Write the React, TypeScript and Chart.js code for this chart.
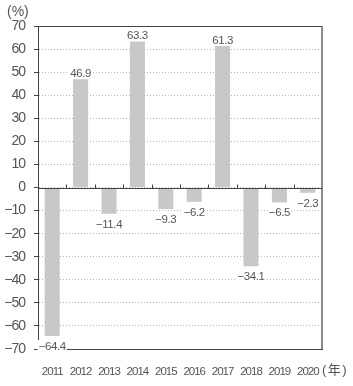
import React, { useEffect, useRef } from "react";
import { Chart, registerables } from "chart.js";

Chart.register(...registerables);

const years = ["2011", "2012", "2013", "2014", "2015", "2016", "2017", "2018", "2019", "2020"];
const growth = [-64.4, 46.9, -11.4, 63.3, -9.3, -6.2, 61.3, -34.1, -6.5, -2.3];
const yMin = -70;
const yMax = 70;
const yStep = 10;
const yUnit = "(%)";
const xUnit = "(年)";

const FONT = "'Liberation Sans', Arial, sans-serif";

const fmt = (v: number) => (v < 0 ? "\u2212" + Math.abs(v).toFixed(1) : v.toFixed(1));

const overlay = {
  id: "overlay",
  beforeDraw(chart: any) {
    (chart.ctx as any).letterSpacing = "-1px";
  },
  afterDatasetsDraw(chart: any) {
    const { ctx, chartArea, scales } = chart;
    const x = scales.x;
    const y = scales.y;
    ctx.save();
    // frame top & right
    ctx.strokeStyle = "#444";
    ctx.lineWidth = 1;
    ctx.beginPath();
    ctx.moveTo(chartArea.left, Math.round(chartArea.top) + 0.5);
    ctx.lineTo(chartArea.right, Math.round(chartArea.top) + 0.5);
    ctx.stroke();
    ctx.strokeStyle = "#666";
    ctx.lineWidth = 1.5;
    ctx.beginPath();
    ctx.moveTo(chartArea.right, chartArea.top);
    ctx.lineTo(chartArea.right, chartArea.bottom);
    ctx.stroke();
    // zero line
    const y0 = Math.round(y.getPixelForValue(0)) + 0.5;
    ctx.strokeStyle = "#444";
    ctx.lineWidth = 1;
    ctx.beginPath();
    ctx.moveTo(chartArea.left, y0);
    ctx.lineTo(chartArea.right, y0);
    for (let i = 1; i < years.length; i++) {
      const bx = Math.round((x.getPixelForValue(i - 1) + x.getPixelForValue(i)) / 2) + 0.5;
      ctx.moveTo(bx, y0);
      ctx.lineTo(bx, y0 - 4);
    }
    ctx.stroke();
    // data labels
    ctx.font = "11.5px " + FONT;
    (ctx as any).letterSpacing = "-0.4px";
    ctx.textAlign = "center";
    const meta = chart.getDatasetMeta(0);
    growth.forEach((v, i) => {
      const bar = meta.data[i];
      const txt = fmt(v);
      const w = ctx.measureText(txt).width;
      let top: number;
      if (v >= 0) {
        top = bar.y - 2 - 9;
      } else {
        top = bar.y + 5;
      }
      ctx.fillStyle = "#fff";
      ctx.fillRect(bar.x - w / 2 - 1, top - 1, w + 2, 11);
      ctx.fillStyle = "#555";
      ctx.textBaseline = "top";
      ctx.fillText(txt, bar.x, top);
    });
    // units
    ctx.fillStyle = "#555";
    ctx.font = "14px " + FONT;
    (ctx as any).letterSpacing = "0px";
    ctx.textAlign = "left";
    ctx.textBaseline = "middle";
    ctx.fillText(yUnit, 7, 12);
    ctx.font = "13px 'Liberation Sans', 'Noto Sans CJK JP', sans-serif";
    (ctx as any).letterSpacing = "1.5px";
    ctx.fillText(xUnit, chartArea.right, 370);
    ctx.restore();
  },
  afterDraw(chart: any) {
    (chart.ctx as any).letterSpacing = "0px";
  },
};

export default function App() {
  const ref = useRef<HTMLCanvasElement>(null);
  useEffect(() => {
    if (!ref.current) return;
    const chart = new Chart(ref.current, {
      type: "bar",
      data: {
        labels: years,
        datasets: [
          {
            data: growth,
            backgroundColor: "#c8c8c8",
            barPercentage: 0.53,
            categoryPercentage: 1,
          },
        ],
      },
      options: {
        animation: false,
        responsive: false,
        devicePixelRatio: 1,
        layout: { padding: { top: 26, right: 31, left: 0, bottom: 0 } },
        plugins: { legend: { display: false }, tooltip: { enabled: false } },
        scales: {
          x: {
            afterFit: (s: any) => {
              s.height = 37;
            },
            grid: { display: false, drawTicks: false },
            border: { display: true, color: "#444", width: 1 },
            ticks: {
              color: "#555",
              font: { family: FONT, size: 11.5 },
              padding: 16,
              maxRotation: 0,
              autoSkip: false,
            },
          },
          y: {
            min: yMin,
            max: yMax,
            afterFit: (s: any) => {
              s.width = 38;
            },
            grid: {
              color: "#b4b4b4",
              lineWidth: 1,
              tickLength: 4,
              tickColor: "#444",
              tickBorderDash: [],
            },
            border: { display: true, color: "#444", width: 1, dash: [1, 2] },
            ticks: {
              stepSize: yStep,
              color: "#555",
              font: { family: FONT, size: 14 },
              padding: 9,
              callback: (v: any) => String(v).replace("-", "\u2212"),
            },
          },
        },
      },
      plugins: [overlay],
    });
    return () => chart.destroy();
  }, []);
  return (
    <div style={{ position: "fixed", left: 0, top: 0, width: 353, height: 386, background: "#fff" }}>
      <canvas ref={ref} width={353} height={386} />
    </div>
  );
}
